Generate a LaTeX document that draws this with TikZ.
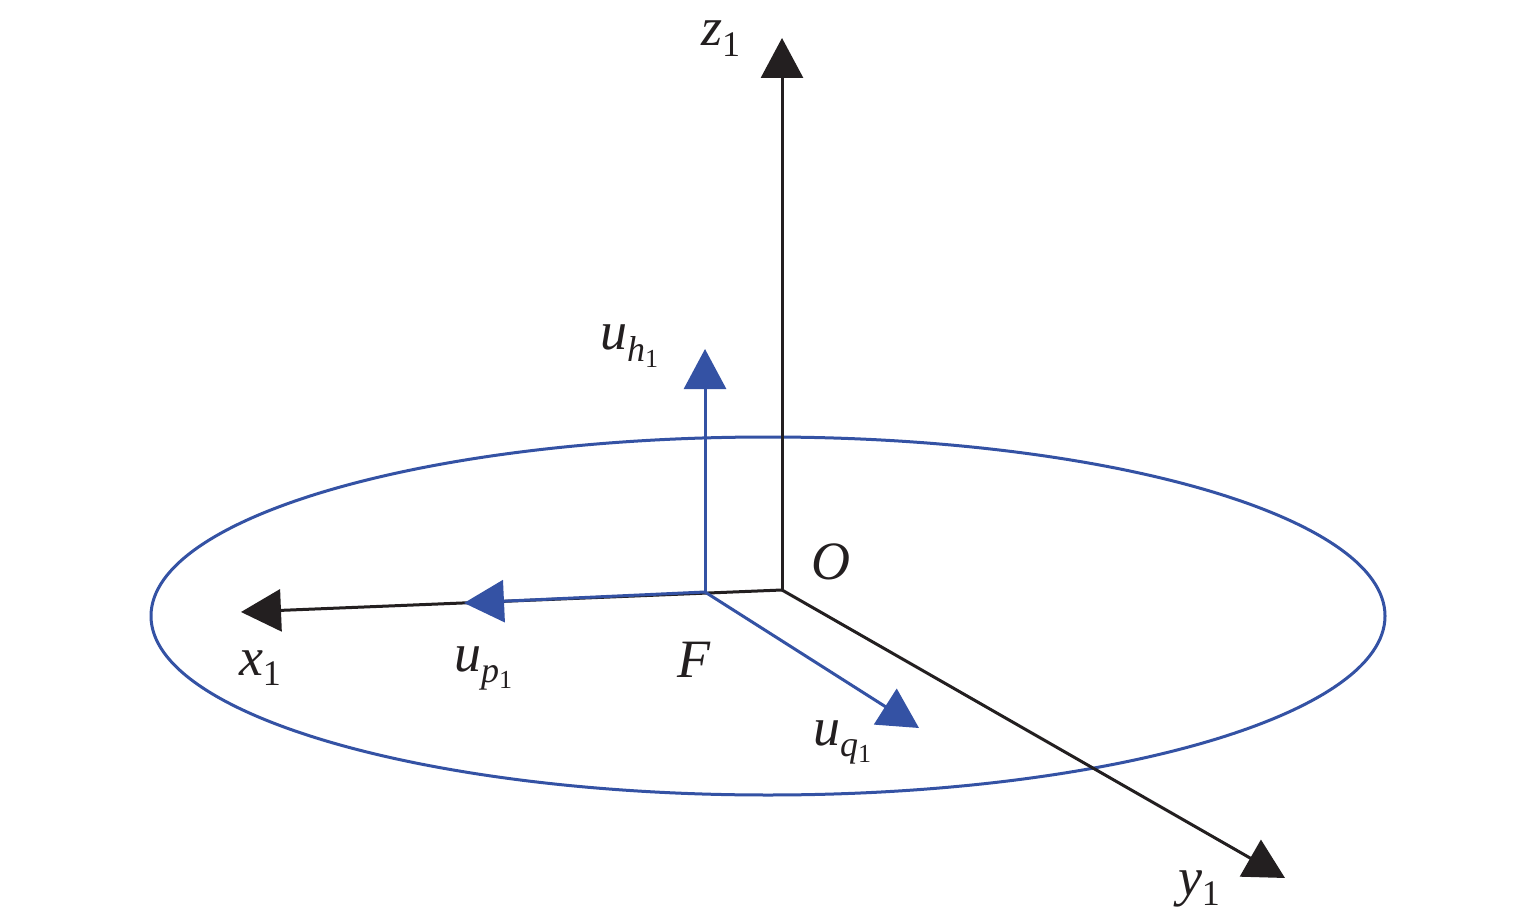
\documentclass[tikz,border=0pt]{standalone}
\usepackage{fontspec}
\setmainfont{Liberation Serif}
\usetikzlibrary{arrows.meta,shapes.geometric}
\definecolor{axisblack}{HTML}{231F20}
\definecolor{figblue}{HTML}{3452A4}
\newcommand{\lowone}[1]{\raisebox{-0.2em}{\fontsize{18}{20}\selectfont\upshape #1}}
\newcommand{\lowtwo}[2]{\raisebox{-0.22em}{\fontsize{18}{20}\selectfont\itshape #1\raisebox{-0.16em}{\fontsize{13}{14}\selectfont\upshape #2}}}
\tikzset{
  axisline/.style={draw=axisblack,line width=1.5pt,-{Triangle[length=20pt,width=21pt,fill=axisblack]}},
  blueline/.style={draw=figblue,line width=1.5pt,-{Triangle[length=20pt,width=21pt,fill=figblue]}},
  lbl/.style={inner sep=0pt,outer sep=0pt,text=axisblack,font=\fontsize{27}{30}\selectfont\itshape},
  pt/.style={inner sep=0pt,outer sep=0pt,minimum size=0pt}
}
\begin{document}
\begin{tikzpicture}[x=0.5pt,y=-0.5pt]
\useasboundingbox (0,0) rectangle (1535,919);
\fill[white] (0,0) rectangle (1535,919);
\node[pt] (O) at (782,590) {};
\node[pt] (F) at (705,592) {};
\node[pt] (zt) at (782,38) {};
\node[pt] (xt) at (241,612) {};
\node[pt] (yt) at (1285,878) {};
\node[pt] (ht) at (705,349) {};
\node[pt] (pt1) at (464,603) {};
\node[pt] (qt) at (919,728) {};
\draw[figblue,line width=1.5pt] (768,616) ellipse [x radius=617,y radius=179];
\draw[axisline] (O) -- (zt);
\draw[axisline] (O) -- (xt);
\draw[axisline] (O) -- (yt);
\draw[blueline] (F) -- (ht);
\draw[blueline] (F) -- (pt1);
\draw[blueline] (F) -- (qt);
\node[lbl,anchor=base west] (lz) at (701,46) {z\lowone{1}};
\node[lbl,anchor=base west] (lh) at (600,350) {u\lowtwo{h}{1}};
\node[lbl,anchor=base west] (lO) at (811,579) {O};
\node[lbl,anchor=base west] (lx) at (239,675) {x\lowone{1}};
\node[lbl,anchor=base west] (lp) at (454,671) {u\lowtwo{p}{1}};
\node[lbl,anchor=base west] (lF) at (677,677) {F};
\node[lbl,anchor=base west] (lq) at (813,745) {u\lowtwo{q}{1}};
\node[lbl,anchor=base west] (ly) at (1178,895) {y\lowone{1}};
\end{tikzpicture}
\end{document}
